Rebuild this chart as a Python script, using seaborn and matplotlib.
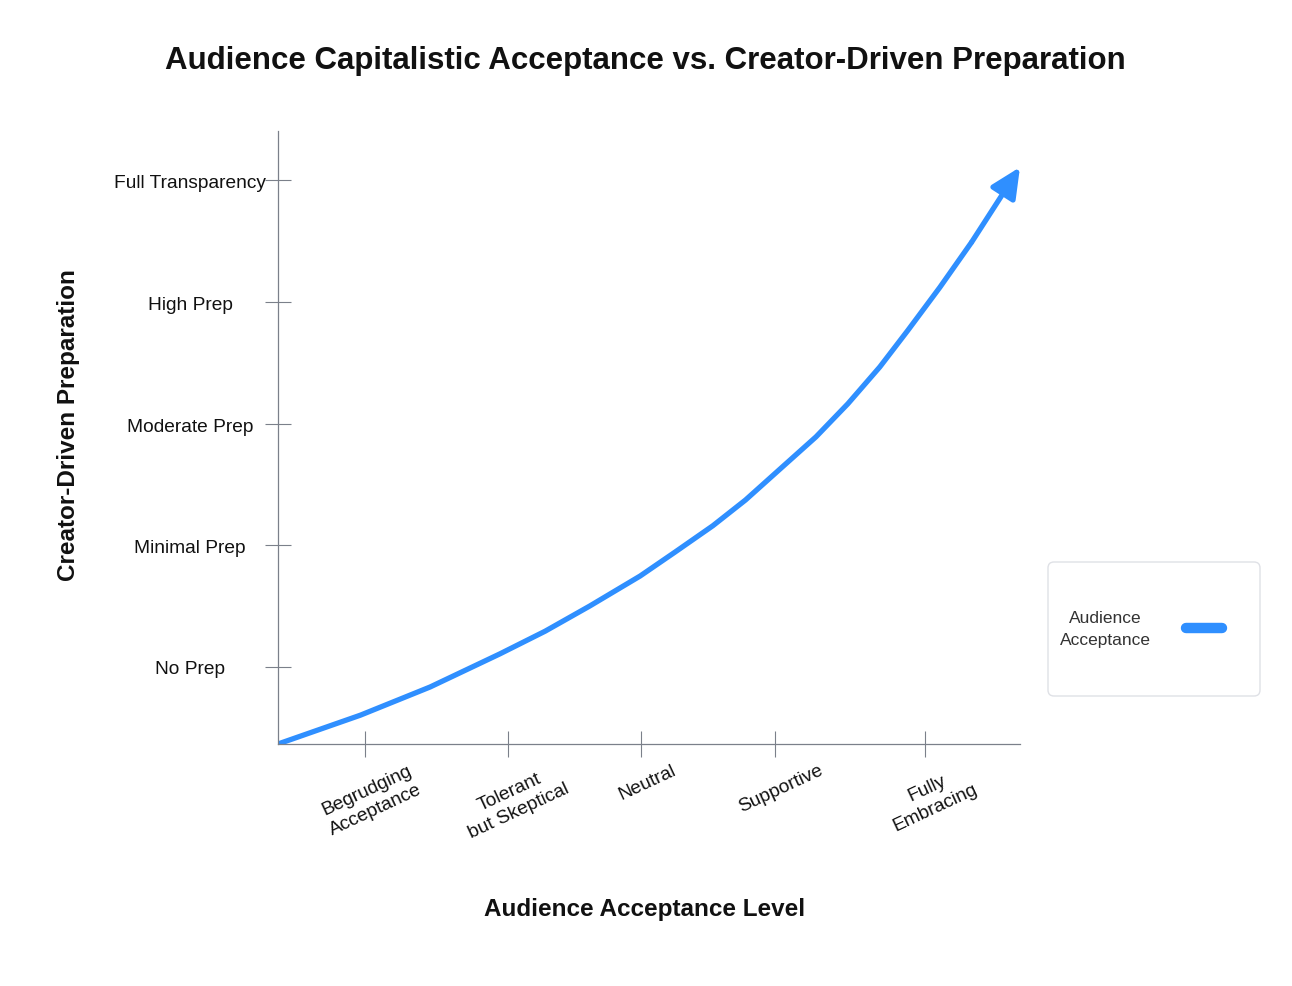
import matplotlib
matplotlib.use("Agg")
import matplotlib.pyplot as plt
from matplotlib.patches import FancyBboxPatch
from matplotlib.transforms import ScaledTranslation
import seaborn as sns
import pandas as pd

# ---- data ----
series_name = "Audience Acceptance"
curve_x = [0, 11.1, 20.5, 29.9, 36.0, 42.0, 48.8, 53.5, 58.6, 63.0, 67.7, 72.5, 76.8, 81.1, 84.9, 89.2, 93.5, 100.0]
curve_y = [0, 4.7, 9.3, 14.7, 18.4, 22.5, 27.4, 31.3, 35.6, 39.8, 44.9, 50.1, 55.5, 61.5, 67.5, 74.5, 81.9, 94.1]

x_tick_pos = [11.7, 31.0, 48.9, 67.0, 87.2]
x_tick_labels = ["Begrudging\nAcceptance", "Tolerant\nbut Skeptical", "Neutral", "Supportive", "Fully\nEmbracing"]
y_tick_pos = [12.6, 32.4, 52.2, 72.1, 92.0]
y_tick_labels = ["No Prep", "Minimal Prep", "Moderate Prep", "High Prep", "Full Transparency"]

title = "Audience Capitalistic Acceptance vs. Creator-Driven Preparation"
x_label = "Audience Acceptance Level"
y_label = "Creator-Driven Preparation"

# ---- style ----
sns.set_theme(style="white")
plt.rcParams["font.family"] = ["Liberation Sans", "DejaVu Sans"]

LINE_COLOR = "#2f8fff"
AXIS_COLOR = "#7b808a"

fig = plt.figure(figsize=(12.92, 9.87), dpi=100)
ax = fig.add_axes([278 / 1292, 1 - 745 / 987, 742 / 1292, 613 / 987])

df = pd.DataFrame({"x": curve_x, "y": curve_y})
body = df.iloc[:-1]
sns.lineplot(data=body, x="x", y="y", ax=ax, color=LINE_COLOR, linewidth=3.8,
             sort=False, label=series_name, solid_capstyle="butt")
ax.annotate("", xy=(curve_x[-1], curve_y[-1]), xytext=(curve_x[-2], curve_y[-2]),
            arrowprops=dict(arrowstyle="-|>,head_length=0.55,head_width=0.26",
                            mutation_scale=33, color=LINE_COLOR, lw=3.8,
                            shrinkA=0, shrinkB=0),
            annotation_clip=False)

ax.set_xlim(0, 100)
ax.set_ylim(0, 100)

for s in ["top", "right"]:
    ax.spines[s].set_visible(False)
for s in ["left", "bottom"]:
    ax.spines[s].set_color(AXIS_COLOR)
    ax.spines[s].set_linewidth(0.9)

ax.set_xticks(x_tick_pos, x_tick_labels)
ax.set_yticks(y_tick_pos, y_tick_labels)
ax.tick_params(axis="both", which="major", bottom=True, left=True, direction="inout",
               length=18.5, width=0.8, color=AXIS_COLOR,
               labelsize=13.8, labelcolor="#111111")
ax.tick_params(axis="x", pad=3)
ax.tick_params(axis="y", pad=54)
shift = ScaledTranslation(6 / 100, 0, fig.dpi_scale_trans)
for t in ax.get_xticklabels():
    t.set_rotation(25)
    t.set_ha("center")
    t.set_multialignment("center")
    t.set_linespacing(1.3)
    t.set_transform(t.get_transform() + shift)
for t in ax.get_yticklabels():
    t.set_ha("center")

ax.set_xlabel(x_label, fontsize=17.5, fontweight="bold", color="#111111")
ax.xaxis.set_label_coords((645 - 278) / 742, (745 - 898) / 613)
ax.set_ylabel(y_label, fontsize=17.5, fontweight="bold", color="#111111")
ax.yaxis.set_label_coords((80 - 278) / 742, (745 - 425) / 613)

fig.suptitle(title, x=645 / 1292, y=1 - 61 / 987, va="center", fontsize=22.5,
             fontweight="bold", color="#111111")

# ---- legend ----
handles, labels = ax.get_legend_handles_labels()
ax.get_legend().remove()
labels = [l.replace(" ", "\n") for l in labels]
box = FancyBboxPatch((10.48, 2.90), 2.12, 1.34, boxstyle="round,pad=0,rounding_size=0.06",
                     transform=fig.dpi_scale_trans, facecolor="white",
                     edgecolor="#dfe1e6", linewidth=1.0, zorder=0)
fig.patches.append(box)
leg = fig.legend(handles, labels, loc="center", bbox_to_anchor=(11.41, 3.575),
                 bbox_transform=fig.dpi_scale_trans, frameon=False,
                 markerfirst=False, fontsize=12.5, handlelength=2.1,
                 handletextpad=2.0, borderpad=0)
for t in leg.get_texts():
    t.set_multialignment("center")
    t.set_color("#333333")
    t.set_linespacing(1.55)
for h in leg.legend_handles:
    h.set_linewidth(7.5)
    h.set_solid_capstyle("round")

fig.savefig("out.png", dpi=100, facecolor="white")
